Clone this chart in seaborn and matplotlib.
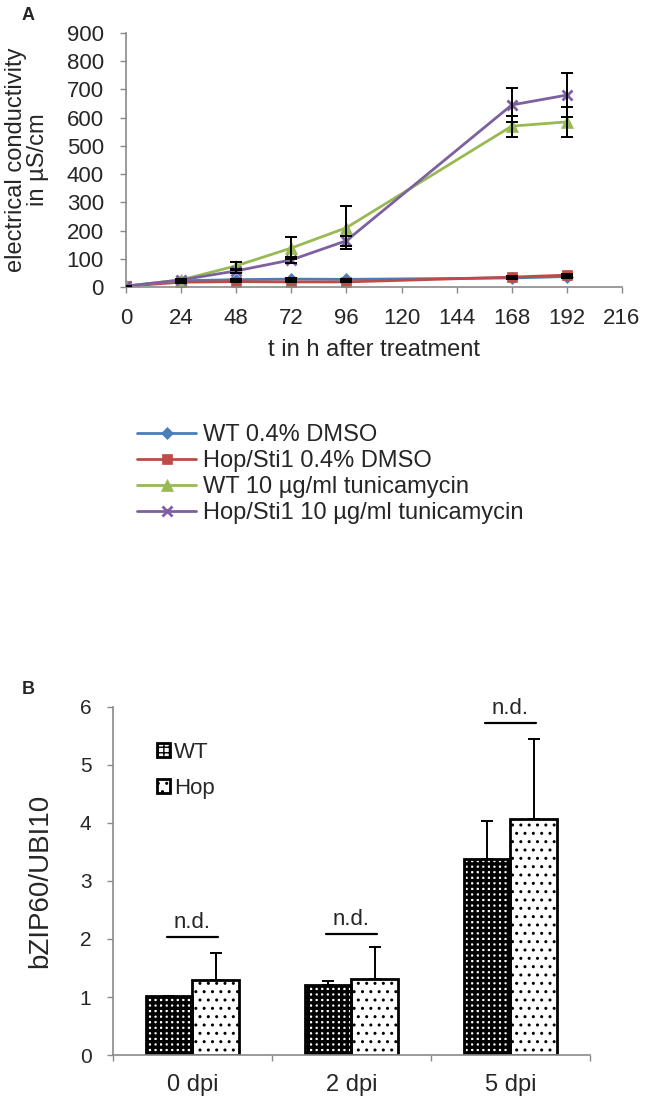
import numpy as np
import pandas as pd
import matplotlib
matplotlib.use("Agg")
import matplotlib.pyplot as plt
from matplotlib.patches import Rectangle
from matplotlib.legend_handler import HandlerTuple
import seaborn as sns


# DATA - panel A (electrical conductivity, uS/cm)

hours = [0, 24, 48, 72, 96, 168, 192]
hour_ticks = [0, 24, 48, 72, 96, 120, 144, 168, 192, 216]

wt_dmso = [3, 22, 26, 28, 27, 32, 37]
wt_dmso_err = [1, 2, 3, 3, 3, 4, 4]
hop_dmso = [3, 17, 19, 18, 18, 35, 42]
hop_dmso_err = [1, 2, 2, 2, 2, 4, 4]
wt_tm = [3, 25, 75, 138, 210, 570, 585]
wt_tm_err = [1, 3, 14, 40, 77, 37, 53]
hop_tm = [3, 25, 57, 96, 164, 645, 680]
hop_tm_err = [1, 3, 6, 10, 18, 59, 78]

series_names = ["WT 0.4% DMSO", "Hop/Sti1 0.4% DMSO",
                "WT 10 µg/ml tunicamycin", "Hop/Sti1 10 µg/ml tunicamycin"]

# DATA - panel B (bZIP60/UBI10)

days = ["0 dpi", "2 dpi", "5 dpi"]
wt_expr = [1.01, 1.21, 3.38]
wt_expr_err = [0.0, 0.07, 0.65]
hop_expr = [1.29, 1.31, 4.07]
hop_expr_err = [0.47, 0.55, 1.38]
nd_height = [2.03, 2.09, 5.72]


sns.set_theme(style="ticks")
plt.rcParams["font.family"] = ["Liberation Sans", "DejaVu Sans"]
plt.rcParams["hatch.linewidth"] = 1.0

grey = "#8a8a8a"

fig = plt.figure(figsize=(6.46, 11), dpi=100)


# PANEL A

axA = fig.add_axes([0.195, 0.7391, 0.7678, 0.2309])

styles = [
    ("#4a7ebb", "D", 6.0, wt_dmso, wt_dmso_err),
    ("#be4b48", "s", 7.5, hop_dmso, hop_dmso_err),
    ("#98b954", "^", 8.0, wt_tm, wt_tm_err),
    ("#7d60a0", "x", 7.0, hop_tm, hop_tm_err),
]
for name, (col, mk, ms, vals, err) in zip(series_names, styles):
    sns.lineplot(x=hours, y=vals, ax=axA, color=col, marker=mk, markersize=ms,
                 linewidth=2.0, mec=col, mfc=col, mew=2.0 if mk == "x" else 0.5,
                 label=name, legend=False, zorder=2)
    axA.errorbar(hours, vals, yerr=err, fmt="none", ecolor="black",
                 elinewidth=1.4, capsize=4.5, capthick=1.4, zorder=3)

axA.set_xlim(0, 216)
axA.set_ylim(0, 900)
axA.set_xticks(hour_ticks)
axA.set_yticks(range(0, 901, 100))
axA.tick_params(labelsize=16, color=grey, length=4, width=1)
axA.tick_params(axis="x", pad=11)
axA.tick_params(axis="y", pad=12)
sns.despine(ax=axA)
for sp in ["left", "bottom"]:
    axA.spines[sp].set_color(grey)
    axA.spines[sp].set_linewidth(1.2)
axA.set_xlabel("t in h after treatment", fontsize=17, labelpad=7)
axA.set_ylabel("electrical conductivity\nin µS/cm", fontsize=17, linespacing=1.0)
axA.yaxis.set_label_coords(-0.155, 0.5)

handles, labels = axA.get_legend_handles_labels()
fig.legend(handles, labels, loc="upper left", bbox_to_anchor=(137 / 646, 1 - 424 / 1100),
           frameon=False, fontsize=17, borderpad=0, borderaxespad=0,
           handlelength=2.5, handletextpad=0.3, labelspacing=0.17)

fig.text(22 / 646, 1 - 16 / 1100, "A", fontsize=13, fontweight="bold", va="center")


# PANEL B

axB = fig.add_axes([0.1749, 0.0409, 0.7384, 0.3164])

df_b = pd.DataFrame({
    "day": days * 2,
    "genotype": ["WT"] * len(days) + ["Hop"] * len(days),
    "value": wt_expr + hop_expr,
})
sns.barplot(data=df_b, x="day", y="value", hue="genotype", errorbar=None,
            palette=["black", "white"], width=0.59, gap=0, legend=False, ax=axB)

# WT: white squares on black (thick black grid), Hop: sparse black dots
grid_ok = hasattr(matplotlib.patches.Patch, "set_hatch_linewidth")
if grid_ok:
    hatch_style = [("white", "black", "+++", 2.4), ("white", "black", "..", 1.0)]
else:
    hatch_style = [("black", "white", "...", 1.0), ("white", "black", "..", 1.0)]

outlines = []
for cont, (fc, hc, htch, hlw), err in zip(axB.containers, hatch_style,
                                         [wt_expr_err, hop_expr_err]):
    xs, ys = [], []
    first = None
    for p in cont.patches:
        p.set_facecolor(fc)
        p.set_edgecolor(hc)
        p.set_hatch(htch)
        p.set_linewidth(0)
        if grid_ok:
            p.set_hatch_linewidth(hlw)
        r = Rectangle(p.get_xy(), p.get_width(), p.get_height(), fill=False,
                      edgecolor="black", linewidth=2.0, zorder=p.get_zorder() + 0.1)
        axB.add_patch(r)
        if first is None:
            first = (p, r)
        xs.append(p.get_x() + p.get_width() / 2)
        ys.append(p.get_height())
    outlines.append(first)
    axB.errorbar(xs, ys, yerr=[np.zeros(len(err)), err], fmt="none",
                 ecolor="black", elinewidth=1.4, capsize=4.5, capthick=1.4, zorder=4)

for i, h in enumerate(nd_height):
    axB.plot([i - 0.16, i + 0.16], [h, h], color="black", linewidth=1.6)
    axB.annotate("n.d.", (i, h), xytext=(0, 3), textcoords="offset points",
                 ha="center", va="bottom", fontsize=16)

axB.set_xlim(-0.5, 2.5)
axB.set_ylim(0, 6)
axB.set_yticks(range(0, 7))
axB.set_xticks([0.5 * k - 0.5 for k in range(0, 7, 2)], minor=True)
axB.tick_params(axis="x", which="major", length=0, pad=13.5, labelsize=17)
axB.tick_params(axis="x", which="minor", length=4.5, width=1, color=grey)
axB.tick_params(axis="y", labelsize=15, length=4.5, width=1, color=grey, pad=11)
sns.despine(ax=axB)
for sp in ["left", "bottom"]:
    axB.spines[sp].set_color(grey)
    axB.spines[sp].set_linewidth(1.2)
axB.set_xlabel("")
axB.set_ylabel("bZIP60/UBI10", fontsize=20)
axB.yaxis.set_label_coords(-0.126, 0.5)

axB.legend([outlines[0], outlines[1]], ["WT", "Hop"],
           handler_map={tuple: HandlerTuple(ndivide=1)},
           loc="upper left", bbox_to_anchor=(157 / 646, 1 - 742 / 1100),
           bbox_transform=fig.transFigure, frameon=False, fontsize=16,
           borderpad=0, borderaxespad=0, handlelength=0.6, handleheight=0.6,
           handletextpad=0.15, labelspacing=0.68)

fig.text(22 / 646, 1 - 689 / 1100, "B", fontsize=13, fontweight="bold", va="center")

fig.savefig("out.png", dpi=100)
